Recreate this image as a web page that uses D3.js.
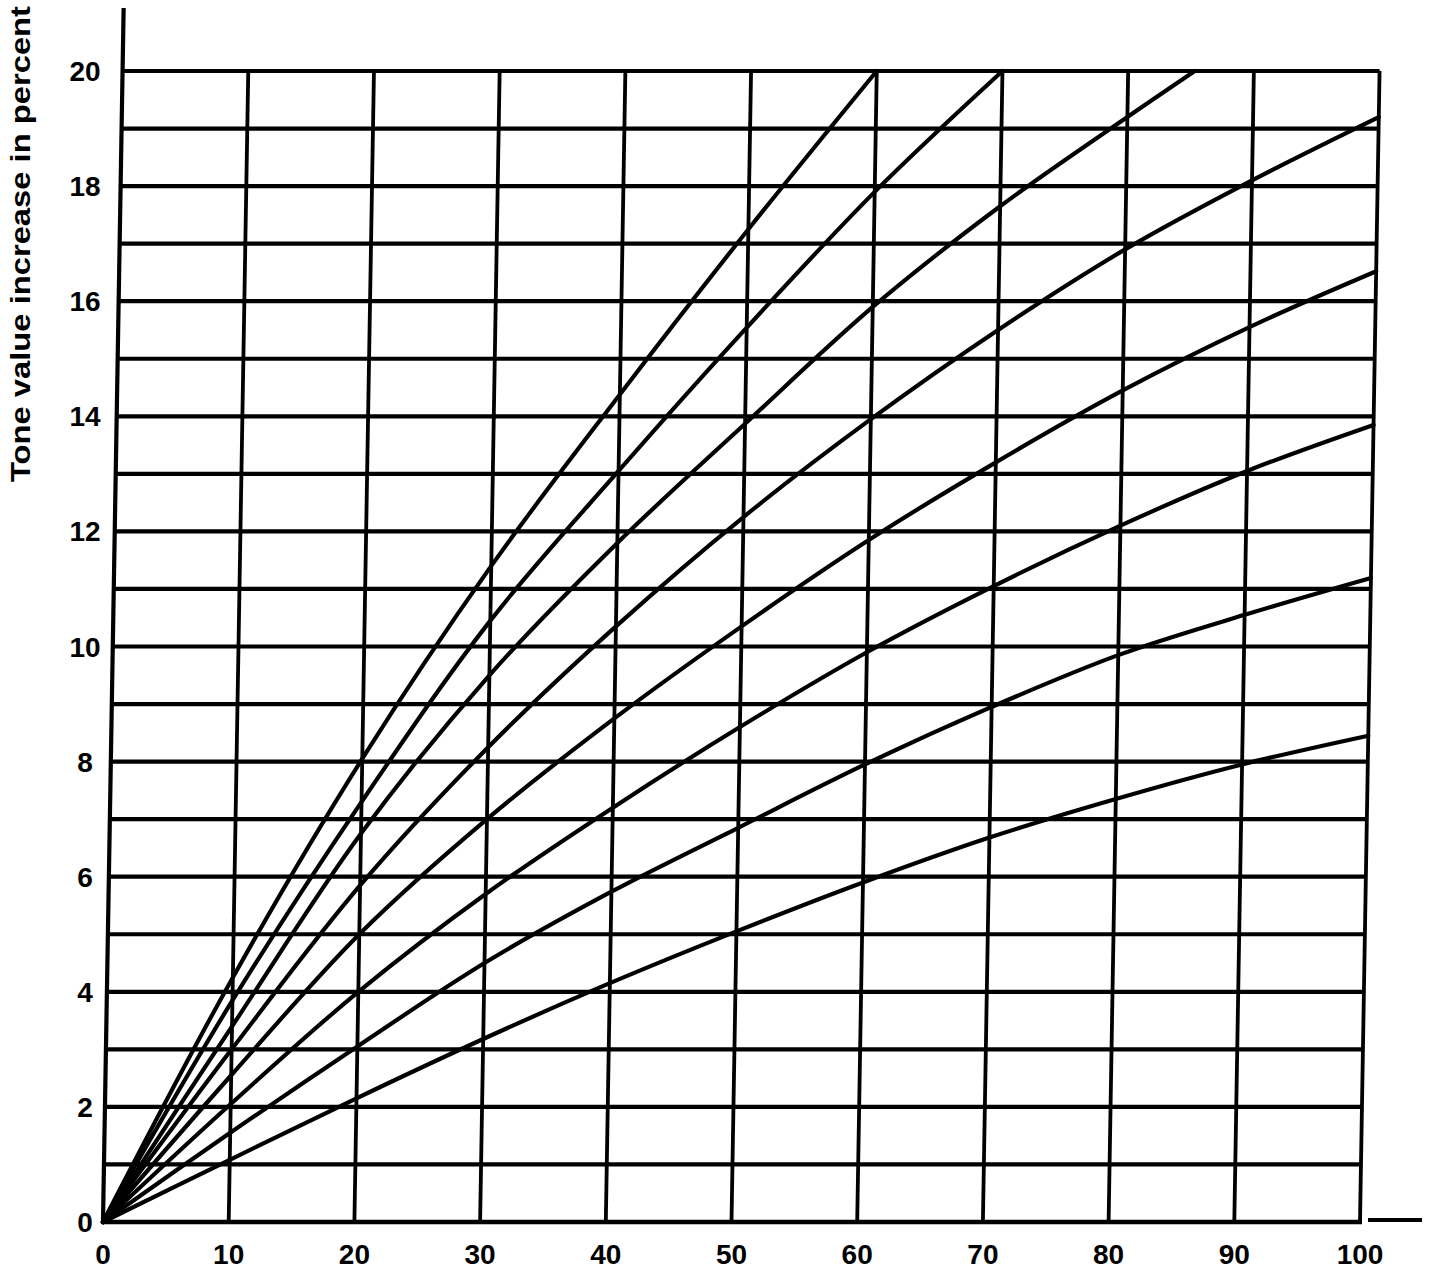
<!DOCTYPE html>
<html>
<head>
<meta charset="utf-8">
<script src="https://cdn.jsdelivr.net/npm/d3@7"></script>
<style>
  html, body { margin: 0; padding: 0; background: #ffffff; }
  svg { display: block; }
  text { font-family: "Liberation Sans", Arial, sans-serif; font-weight: bold; fill: #000; }
</style>
</head>
<body>
<svg id="chart" width="1436" height="1277"></svg>
<script>
// ---- data ----
const xTickValues = [0, 10, 20, 30, 40, 50, 60, 70, 80, 90, 100];
const yTickLabels = [0, 2, 4, 6, 8, 10, 12, 14, 16, 18, 20];
const yGridValues = [1, 2, 3, 4, 5, 6, 7, 8, 9, 10, 11, 12, 13, 14, 15, 16, 17, 18, 19, 20];
const yAxisTitle = "Tone value increase in percent";

const curve1 = [[0,0],[10,4.25],[20,8.05],[30,11.4],[40,14.38],[50,17.25],[60,20]];
const curve2 = [[0,0],[10,3.85],[20,7.3],[30,10.45],[40,13.05],[50,15.54],[60,17.9],[70,20]];
const curve3 = [[0,0],[10,3.4],[20,6.75],[30,9.5],[40,11.8],[50,13.87],[60,15.9],[70,17.65],[80,19.2],[85.3,20]];
const curve4 = [[0,0],[10,3.0],[20,5.85],[30,8.25],[40,10.35],[50,12.25],[60,13.95],[70,15.5],[80,16.9],[90,18.1],[100,19.2]];
const curve5 = [[0,0],[10,2.55],[20,5.0],[30,7.0],[40,8.75],[50,10.35],[60,11.85],[70,13.2],[80,14.45],[90,15.55],[100,16.52]];
const curve6 = [[0,0],[10,2.05],[20,4.0],[30,5.7],[40,7.2],[50,8.6],[60,9.9],[70,11.05],[80,12.1],[90,13.05],[100,13.85]];
const curve7 = [[0,0],[10,1.55],[20,3.05],[30,4.5],[40,5.74],[50,6.85],[60,7.95],[70,8.95],[80,9.85],[90,10.55],[100,11.19]];
const curve8 = [[0,0],[10,1.08],[20,2.15],[30,3.18],[40,4.15],[50,5.05],[60,5.9],[70,6.68],[80,7.35],[90,7.95],[100,8.45]];
const curves = [curve1, curve2, curve3, curve4, curve5, curve6, curve7, curve8];

// ---- layout ----
const svg = d3.select("#chart");
const x = d3.scaleLinear().domain([0, 100]).range([103, 1360]);
const y = d3.scaleLinear().domain([0, 20]).range([1222, 71]);
const y0 = y(0);
const skewDeg = -Math.atan(0.017) * 180 / Math.PI; // scanned sheet leans slightly

const plot = svg.append("g")
  .attr("transform", `translate(0,${y0}) skewX(${skewDeg}) translate(0,${-y0})`);

// horizontal grid lines
plot.append("g").selectAll("line").data(yGridValues).join("line")
  .attr("x1", x(0)).attr("x2", x(100))
  .attr("y1", d => y(d)).attr("y2", d => y(d))
  .attr("stroke", "#000").attr("stroke-width", 4.2);

// vertical grid lines
plot.append("g").selectAll("line").data(xTickValues.filter(d => d > 0)).join("line")
  .attr("x1", d => x(d)).attr("x2", d => x(d))
  .attr("y1", y(0)).attr("y2", y(20))
  .attr("stroke", "#000").attr("stroke-width", 3.8);

// y axis line (extends above the grid)
plot.append("line")
  .attr("x1", x(0)).attr("x2", x(0))
  .attr("y1", y(0) + 2).attr("y2", 8)
  .attr("stroke", "#000").attr("stroke-width", 4.2);

// x axis line (extends beyond the grid, with a small break)
plot.append("line")
  .attr("x1", x(0)).attr("x2", x(100) + 2)
  .attr("y1", y(0)).attr("y2", y(0))
  .attr("stroke", "#000").attr("stroke-width", 4.5);
plot.append("line")
  .attr("x1", x(100) + 8).attr("x2", x(100) + 62)
  .attr("y1", y(0) - 2).attr("y2", y(0) - 2)
  .attr("stroke", "#000").attr("stroke-width", 4);

// curves
const line = d3.line().x(d => x(d[0])).y(d => y(d[1])).curve(d3.curveCatmullRom.alpha(0.5));
plot.append("g").selectAll("path").data(curves).join("path")
  .attr("d", line)
  .attr("fill", "none")
  .attr("stroke", "#000")
  .attr("stroke-width", 4.2)
  .attr("stroke-linejoin", "round")
  .attr("stroke-linecap", "round");

// x tick labels
svg.append("g").selectAll("text").data(xTickValues).join("text")
  .attr("x", d => x(d))
  .attr("y", 1264)
  .attr("text-anchor", "middle")
  .attr("font-size", 28)
  .text(d => d);

// y tick labels
svg.append("g").selectAll("text").data(yTickLabels).join("text")
  .attr("x", 85)
  .attr("y", d => y(d) + 10)
  .attr("text-anchor", "middle")
  .attr("font-size", 28)
  .text(d => d);

// y axis title
svg.append("text")
  .attr("transform", "translate(30,244) rotate(-90)")
  .attr("text-anchor", "middle")
  .attr("font-size", 27)
  .attr("textLength", 476)
  .attr("lengthAdjust", "spacingAndGlyphs")
  .text(yAxisTitle);
</script>
</body>
</html>
